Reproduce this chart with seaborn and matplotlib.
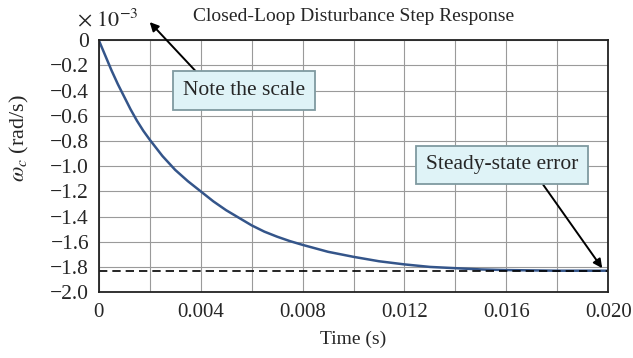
"""Closed-loop disturbance step response, redrawn with seaborn."""

import matplotlib
matplotlib.use("Agg")
import matplotlib.pyplot as plt
import pandas as pd
import seaborn as sns

# response (values in units of 1e-3 rad/s)
time_s = [0, 0.00025, 0.0005, 0.00075, 0.001, 0.00125, 0.0015, 0.00175,
          0.002, 0.0025, 0.003, 0.0035, 0.004, 0.0045, 0.005, 0.0055, 0.006,
          0.0065, 0.007, 0.0075, 0.008, 0.009, 0.010, 0.011, 0.012, 0.013,
          0.014, 0.015, 0.016, 0.018, 0.020]
omega_c = [0, -0.12, -0.24, -0.35, -0.45, -0.55, -0.64, -0.72,
           -0.79, -0.92, -1.03, -1.12, -1.20, -1.28, -1.35, -1.41, -1.47,
           -1.52, -1.56, -1.595, -1.625, -1.68, -1.72, -1.755, -1.78, -1.80,
           -1.81, -1.82, -1.825, -1.83, -1.83]
steady_state = -1.83

x_ticks = [0, 0.004, 0.008, 0.012, 0.016, 0.020]
x_ticklabels = ["0", "0.004", "0.008", "0.012", "0.016", "0.020"]
y_ticks = [0, -0.2, -0.4, -0.6, -0.8, -1.0, -1.2, -1.4, -1.6, -1.8, -2.0]
y_ticklabels = ["0"] + [f"\u2212{abs(v):.1f}" for v in y_ticks[1:]]

sns.set_theme(style="ticks")
plt.rcParams["font.family"] = ["Liberation Serif", "DejaVu Serif"]
plt.rcParams["mathtext.fontset"] = "stix"

df = pd.DataFrame({"t": time_s, "w": omega_c})

fig = plt.figure(figsize=(6.33, 3.58), dpi=100)
ax = fig.add_axes([0.156, 0.184, 0.805, 0.704])

# minor grid every 0.002 s
ax.set_xticks([i * 0.002 for i in range(11)], minor=True)
ax.grid(True, which="both", axis="x", color="#9a9a9a", lw=0.8)
ax.grid(True, which="major", axis="y", color="#9a9a9a", lw=0.8)
ax.tick_params(which="minor", length=0)

sns.lineplot(data=df, x="t", y="w", ax=ax, color="#34558a", lw=1.8)
ax.axhline(steady_state, color="black", ls=(0, (5, 3)), lw=1.2)

ax.set_xlim(0, 0.020)
ax.set_ylim(-2.0, 0)
ax.set_xticks(x_ticks)
ax.set_xticklabels(x_ticklabels)
ax.set_yticks(y_ticks)
ax.set_yticklabels(y_ticklabels)
ax.tick_params(axis="x", labelsize=15, length=0, pad=8)
ax.tick_params(axis="y", labelsize=15.5, length=0, pad=7)
for side in ax.spines.values():
    side.set_color("#222222")
    side.set_linewidth(1.3)

ax.set_xlabel("Time (s)", fontsize=14, labelpad=6)
ax.set_ylabel(r"$\omega_c$ (rad/s)", fontsize=16)
ax.yaxis.set_label_coords(-0.133, 0.61)
ax.set_title("Closed-Loop Disturbance Step Response", fontsize=14, pad=14)
fig.text(0.122, 0.913, r"$\times\ 10^{-3}$", fontsize=16,
         ha="left", va="bottom")

box = dict(boxstyle="square,pad=0.45", fc="#dff3f7", ec="#7f9aa0", lw=1.3)
arrow = dict(arrowstyle="-|>", color="black", lw=1.4, mutation_scale=13,
             shrinkA=0, shrinkB=0)
ax.annotate("Note the scale", xy=(0.002, 0.143), xytext=(0.0057, -0.40),
            fontsize=15.5, ha="center", va="center", bbox=box,
            arrowprops=dict(arrow, relpos=(0.18, 1.0)),
            annotation_clip=False)
ax.annotate("Steady-state error", xy=(0.01976, -1.81), xytext=(0.01584, -0.99),
            fontsize=15.5, ha="center", va="center", bbox=box,
            arrowprops=dict(arrow, relpos=(0.72, 0.0)))

fig.savefig("out.png", dpi=100)
